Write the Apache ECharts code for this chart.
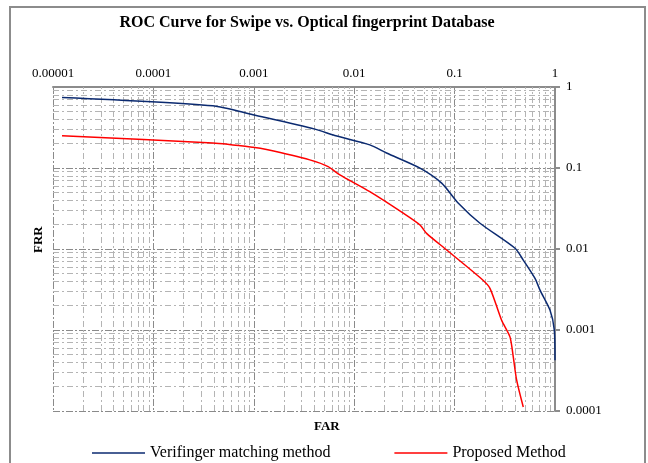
<!DOCTYPE html>
<html>
<head>
<meta charset="utf-8">
<script src="https://cdn.jsdelivr.net/npm/echarts@6/dist/echarts.min.js"></script>
<style>
  html, body { margin: 0; padding: 0; background: #fff; }
  #chart { width: 648px; height: 463px; }
</style>
</head>
<body>
<div id="chart"></div>
<script>
// tick labels
const farTicks = ['0.00001', '0.0001', '0.001', '0.01', '0.1', '1'];
const frrTicks = ['0.0001', '0.001', '0.01', '0.1', '1'];

// Verifinger matching method (FAR, FRR)
const verFar = [1.23e-5, 3.9e-4, 9.8e-4, 4.06e-3, 6.4e-3, 0.0143, 0.021, 0.0452, 0.0743, 0.109, 0.179, 0.40, 0.483, 0.632, 0.709, 0.891, 0.984, 1.0];
const verFrr = [0.744, 0.587, 0.454, 0.302, 0.252, 0.193, 0.153, 0.0996, 0.065, 0.0367, 0.0208, 0.0102, 0.0073, 0.00434, 0.00311, 0.00176, 0.001, 0.000424];

// Proposed Method (FAR, FRR)
const propFar = [1.23e-5, 3.9e-4, 9.8e-4, 1.34e-3, 3.61e-3, 5.5e-3, 7.2e-3, 0.0143, 0.0308, 0.0452, 0.0526, 0.0834, 0.186, 0.225, 0.294, 0.356, 0.384, 0.415, 0.483];
const propFrr = [0.25, 0.203, 0.18, 0.169, 0.126, 0.104, 0.0822, 0.0511, 0.0277, 0.0198, 0.0156, 0.00972, 0.00426, 0.00327, 0.00132, 0.000823, 0.000465, 0.00024, 0.000112];

const seriesNames = ['Verifinger matching method', 'Proposed Method'];

const chart = echarts.init(document.getElementById('chart'));
const serif = '"Liberation Serif", "DejaVu Serif", serif';

const zip = (xs, ys) => xs.map((x, i) => [x, ys[i]]);

// minor grid values (2..9 within each decade)
const minorVals = (fromExp, toExp) => {
    const out = [];
    for (let e = fromExp; e < toExp; e++) {
        for (let k = 2; k <= 9; k++) out.push(k * Math.pow(10, e));
    }
    return out;
};
const minorGrid = minorVals(-5, 0).map(v => ({ coords: [[v, 0.0001], [v, 1]] }))
    .concat(minorVals(-4, 0).map(v => ({ coords: [[0.00001, v], [1, v]] })));

const labelFor = (ticks) => (v) => {
    const e = Math.round(Math.log10(v));
    return ticks.find(t => Math.round(Math.log10(parseFloat(t))) === e) || '';
};

const majorLine = { show: true, lineStyle: { color: '#8a8a8a', width: 1, type: [7, 2, 2, 2] } };

const option = {
    backgroundColor: '#fff',
    animation: false,
    title: {
        text: 'ROC Curve for Swipe vs. Optical fingerprint Database',
        left: 302,
        textAlign: 'center',
        top: 10,
        textStyle: { fontFamily: serif, fontSize: 16, fontWeight: 'bold', color: '#000' }
    },
    graphic: [
        { type: 'rect', shape: { x: 10, y: 7, width: 635, height: 470 }, style: { fill: 'none', stroke: '#8c8c8c', lineWidth: 2 }, silent: true },
        { type: 'text', left: 314, top: 420, style: { text: 'FAR', font: 'bold 13px ' + serif, fill: '#000' } },
        { type: 'text', x: 32, y: 253, rotation: Math.PI / 2, style: { text: 'FRR', font: 'bold 13px ' + serif, fill: '#000' } }
    ],
    legend: {
        data: seriesNames,
        left: 87,
        top: 440,
        icon: 'rect',
        itemWidth: 53,
        itemHeight: 1.5,
        itemGap: 64,
        textStyle: { fontFamily: serif, fontSize: 16, color: '#000' }
    },
    grid: { left: 53, right: 93, top: 87, bottom: 52 },
    xAxis: {
        type: 'log',
        logBase: 10,
        position: 'top',
        min: 0.00001,
        max: 1,
        splitNumber: 5,
        axisLine: { show: true, lineStyle: { color: '#8c8c8c', width: 2 } },
        axisTick: { show: false },
        axisLabel: { formatter: labelFor(farTicks), fontFamily: serif, fontSize: 13, color: '#000', margin: 7 },
        splitLine: majorLine
    },
    yAxis: {
        type: 'log',
        logBase: 10,
        position: 'right',
        min: 0.0001,
        max: 1,
        splitNumber: 4,
        axisLine: { show: true, lineStyle: { color: '#8c8c8c', width: 2 } },
        axisTick: { show: true, length: 5, lineStyle: { color: '#8c8c8c', width: 2 } },
        axisLabel: { formatter: labelFor(frrTicks), fontFamily: serif, fontSize: 13, color: '#000', margin: 11 },
        splitLine: majorLine
    },
    series: [
        {
            name: 'minor-grid',
            type: 'lines',
            coordinateSystem: 'cartesian2d',
            silent: true,
            z: 1,
            lineStyle: { color: '#b4b4b4', width: 1, type: [6, 3, 2, 3], opacity: 1 },
            data: minorGrid
        },
        {
            name: seriesNames[0],
            type: 'line',
            data: zip(verFar, verFrr),
            symbol: 'none',
            smooth: 0.25,
            lineStyle: { color: '#0b2a70', width: 1.5 },
            itemStyle: { color: '#0b2a70' },
            z: 5
        },
        {
            name: seriesNames[1],
            type: 'line',
            data: zip(propFar, propFrr),
            symbol: 'none',
            smooth: 0.25,
            lineStyle: { color: '#ff0000', width: 1.5 },
            itemStyle: { color: '#ff0000' },
            z: 5
        }
    ]
};

chart.setOption(option);
</script>
</body>
</html>
